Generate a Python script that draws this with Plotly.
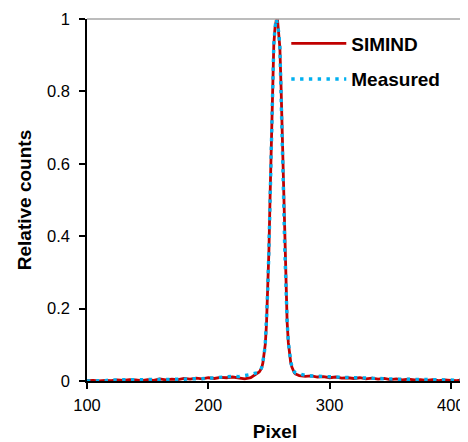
import plotly.graph_objects as go

pixel = [100, 105, 110, 115, 120, 125, 130, 135, 140, 145, 150, 155, 160, 165, 170,
         175, 180, 185, 190, 195, 200, 205, 210, 215, 220, 225, 230, 235, 238, 240,
         241, 242, 243, 244, 245, 246, 247, 248, 249, 250, 251, 252, 253, 254, 255,
         256, 257, 258, 259, 260, 261, 262, 263, 264, 265, 266, 267, 268, 269, 270,
         271, 272, 275, 280, 285, 290, 295, 300, 305, 310, 315, 320, 325, 330, 335,
         340, 345, 350, 355, 360, 365, 370, 375, 380, 385, 390, 395, 400, 405, 410, 415]

simind = [0.001, 0.002, 0.000, 0.002, 0.001, 0.003, 0.002, 0.004, 0.003, 0.001, 0.004, 0.002, 0.006, 0.003, 0.005,
          0.004, 0.007, 0.005, 0.008, 0.006, 0.009, 0.007, 0.010, 0.009, 0.011, 0.008, 0.006, 0.009, 0.016, 0.020,
          0.022, 0.025, 0.030, 0.036, 0.050, 0.070, 0.102, 0.158, 0.248, 0.362, 0.518, 0.672, 0.812, 0.928, 0.976,
          0.995, 1.000, 0.968, 0.922, 0.812, 0.672, 0.518, 0.368, 0.252, 0.163, 0.106, 0.073, 0.050, 0.038, 0.028,
          0.022, 0.019, 0.015, 0.013, 0.014, 0.011, 0.012, 0.009, 0.011, 0.008, 0.009, 0.007, 0.009, 0.006, 0.008,
          0.005, 0.007, 0.004, 0.006, 0.003, 0.005, 0.003, 0.004, 0.002, 0.004, 0.001, 0.003, 0.002, 0.001, 0.004, 0.002]

measured = [0.000, 0.000, 0.001, 0.001, 0.003, 0.003, 0.004, 0.003, 0.004, 0.004, 0.003, 0.005, 0.004, 0.003, 0.003,
            0.005, 0.005, 0.006, 0.006, 0.006, 0.007, 0.009, 0.011, 0.013, 0.013, 0.012, 0.014, 0.018, 0.021, 0.022,
            0.023, 0.026, 0.029, 0.037, 0.050, 0.072, 0.104, 0.160, 0.250, 0.365, 0.520, 0.675, 0.815, 0.930, 0.975,
            1.000, 0.985, 0.965, 0.925, 0.815, 0.675, 0.520, 0.370, 0.255, 0.165, 0.108, 0.074, 0.052, 0.040, 0.030,
            0.025, 0.022, 0.019, 0.016, 0.014, 0.013, 0.012, 0.011, 0.011, 0.010, 0.010, 0.009, 0.009, 0.008, 0.008,
            0.007, 0.007, 0.006, 0.005, 0.005, 0.005, 0.004, 0.004, 0.004, 0.003, 0.003, 0.003, 0.003, 0.002, 0.003, 0.003]

x_ticks = [100, 200, 300, 400]
y_ticks = [0, 0.2, 0.4, 0.6, 0.8, 1]
y_tick_labels = ["0", "0.2", "0.4", "0.6", "0.8", "1"]

FONT = "Liberation Sans, Arial, sans-serif"

fig = go.Figure()
fig.add_trace(go.Scatter(x=pixel, y=simind, mode="lines", name="SIMIND",
                         legendgroup="a",
                         line=dict(color="#C00000", width=2.8)))
fig.add_trace(go.Scatter(x=pixel, y=measured, mode="lines", name="Measured",
                         legendgroup="b",
                         line=dict(color="#00B0F0", width=3.4, dash="3.4px,5.4px")))

fig.update_layout(
    width=460, height=434,
    margin=dict(l=79, r=5, t=11, b=61, autoexpand=False),
    paper_bgcolor="white", plot_bgcolor="white",
    font=dict(family=FONT, size=16.5, color="black"),
    showlegend=True,
    legend=dict(x=0.53, y=0.985, xanchor="left", yanchor="top",
                bgcolor="rgba(0,0,0,0)", font=dict(size=19, weight="bold"),
                traceorder="grouped", tracegroupgap=8, itemwidth=55),
    xaxis=dict(range=[100, 410], tickvals=x_ticks, showgrid=False, zeroline=False,
               showline=True, linecolor="black", linewidth=1.5, automargin=False,
               ticks="outside", ticklen=6, tickwidth=1.5, tickcolor="black",
               tickfont=dict(size=16.5), ticklabelstandoff=2,
               title=dict(text="Pixel", font=dict(size=19, weight="bold"), standoff=15)),
    yaxis=dict(range=[0, 1], tickvals=y_ticks, ticktext=y_tick_labels, showgrid=False,
               zeroline=False, showline=True, linecolor="black", linewidth=1.5, automargin=False,
               ticks="outside", ticklen=6, tickwidth=1.5, tickcolor="black",
               tickfont=dict(size=16.5), ticklabelstandoff=6,
               title=dict(text="Relative counts", font=dict(size=19, weight="bold"), standoff=10)),
    shapes=[
        dict(type="line", xref="paper", yref="paper", x0=0, x1=1, y0=1, y1=1,
             line=dict(color="#A6A6A6", width=1.5)),
        dict(type="line", xref="paper", yref="paper", x0=1, x1=1, y0=0, y1=1,
             line=dict(color="#A6A6A6", width=1.5)),
    ],
)

fig.write_html("out.html")
